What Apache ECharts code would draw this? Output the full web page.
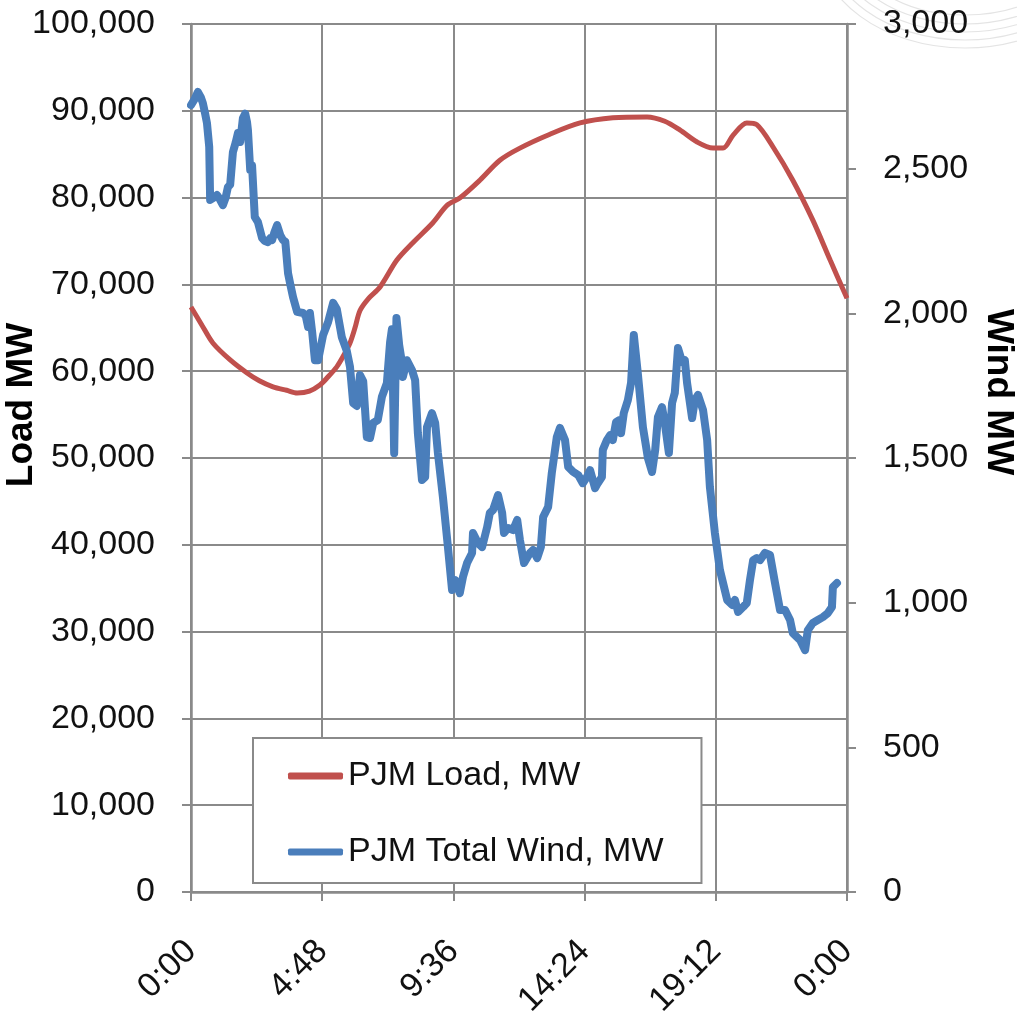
<!DOCTYPE html>
<html><head><meta charset="utf-8">
<script src="https://cdn.jsdelivr.net/npm/echarts@6/dist/echarts.min.js"></script>
<style>html,body{margin:0;padding:0;background:#fff;}#c{width:1017px;height:1014px;}</style>
</head><body><div id="c"></div>
<script>
// minutes after midnight
const loadTimes = [0, 24, 48, 86, 123, 150, 180, 210, 233, 260, 283, 300, 320, 335, 349, 360, 371, 390, 415, 452, 487, 531, 562, 590, 634, 678, 722, 788, 854, 926, 1001, 1040, 1073, 1111, 1146, 1168, 1190, 1220, 1242, 1278, 1321, 1365, 1403, 1440];
const loadValues = [67400, 65300, 63250, 61300, 59800, 58900, 58200, 57800, 57500, 57700, 58400, 59300, 60500, 61800, 63250, 65000, 67000, 68400, 69700, 72800, 74800, 77100, 79100, 79950, 82000, 84300, 85700, 87300, 88600, 89200, 89300, 88800, 87800, 86400, 85700, 85700, 87200, 88600, 88400, 85800, 82000, 77400, 72800, 68400];

const windTimes = [0, 8, 15, 22, 26, 31, 35, 40, 42, 50, 57, 63, 70, 76, 81, 86, 90, 92, 98, 103, 108, 114, 119, 123, 125, 130, 134, 140, 147, 156, 162, 169, 174, 178, 183, 189, 196, 202, 207, 211, 213, 218, 224, 233, 246, 252, 257, 261, 266, 272, 279, 290, 301, 312, 320, 331, 342, 349, 356, 364, 371, 378, 386, 393, 400, 410, 419, 430, 437, 441, 446, 451, 457, 461, 465, 474, 485, 492, 498, 507, 514, 518, 529, 536, 542, 553, 564, 573, 580, 590, 597, 606, 617, 619, 630, 639, 650, 656, 663, 674, 683, 687, 696, 707, 716, 722, 731, 744, 751, 760, 768, 773, 784, 792, 803, 810, 821, 828, 839, 850, 860, 869, 876, 887, 893, 902, 904, 913, 920, 926, 933, 940, 944, 950, 959, 966, 972, 981, 992, 1003, 1012, 1019, 1025, 1034, 1040, 1049, 1056, 1062, 1069, 1078, 1084, 1089, 1100, 1106, 1113, 1124, 1133, 1139, 1150, 1161, 1177, 1188, 1194, 1201, 1212, 1220, 1227, 1234, 1242, 1249, 1260, 1271, 1282, 1293, 1304, 1315, 1321, 1337, 1348, 1354, 1365, 1376, 1387, 1398, 1407, 1409, 1418];
const windValues = [2720, 2740, 2765, 2745, 2727, 2690, 2658, 2575, 2392, 2400, 2409, 2395, 2374, 2400, 2436, 2445, 2450, 2557, 2590, 2623, 2592, 2675, 2690, 2661, 2633, 2495, 2512, 2333, 2315, 2260, 2250, 2246, 2260, 2253, 2280, 2305, 2270, 2253, 2248, 2243, 2139, 2100, 2056, 2005, 2001, 1990, 1953, 2001, 1935, 1838, 1838, 1925, 1970, 2036, 2015, 1918, 1870, 1815, 1690, 1680, 1787, 1765, 1572, 1569, 1621, 1631, 1711, 1759, 1900, 1945, 1517, 1984, 1890, 1850, 1780, 1838, 1804, 1769, 1586, 1424, 1434, 1607, 1655, 1621, 1517, 1365, 1192, 1044, 1078, 1033, 1089, 1137, 1172, 1241, 1206, 1192, 1261, 1310, 1320, 1372, 1310, 1241, 1258, 1251, 1286, 1217, 1137, 1172, 1182, 1154, 1192, 1296, 1331, 1448, 1572, 1604, 1562, 1469, 1452, 1441, 1413, 1434, 1458, 1396, 1413, 1434, 1528, 1562, 1579, 1562, 1624, 1631, 1586, 1655, 1700, 1760, 1925, 1790, 1607, 1500, 1452, 1528, 1642, 1676, 1621, 1517, 1690, 1725, 1880, 1832, 1838, 1759, 1638, 1700, 1718, 1666, 1562, 1400, 1241, 1113, 1009, 992, 1009, 968, 985, 999, 1078, 1147, 1154, 1147, 1172, 1165, 1068, 975, 975, 940, 895, 871, 836, 905, 930, 940, 950, 964, 985, 1054, 1068];

const xTicks = [0, 288, 576, 864, 1152, 1440];
const xTickLabels = ['0:00', '4:48', '9:36', '14:24', '19:12', '0:00'];

const FONT = 'Liberation Sans, Arial, sans-serif';
const GRAY = '#8a8a8a';
const chart = echarts.init(document.getElementById('c'), null, {renderer: 'canvas'});
const fmtNum = v => String(v).replace(/\B(?=(\d{3})+(?!\d))/g, ',');

// faint decorative arcs in the upper-right corner (slide background)
const arcs = [[75, 115], [84, 124], [92, 132], [100, 140], [108, 148]].map(([ry, rx]) => ({
  type: 'ellipse', silent: true, z: -10,
  shape: {cx: 965, cy: -60, rx: rx, ry: ry},
  style: {fill: 'none', stroke: '#e4e4e4', lineWidth: 1.2}
}));

chart.setOption({
  animation: false,
  backgroundColor: '#fff',
  grid: {left: 191, right: 170, top: 24, bottom: 122, containLabel: false, outerBoundsMode: 'none'},
  legend: {
    orient: 'vertical', left: 253, top: 738,
    padding: [18, 38, 11, 35],
    itemGap: 36, itemWidth: 55, itemHeight: 7,
    icon: 'roundRect',
    borderColor: GRAY, borderWidth: 2, backgroundColor: '#fff',
    textStyle: {fontFamily: FONT, fontSize: 34, color: '#111', lineHeight: 40},
    itemStyle: {borderWidth: 0}
  },
  xAxis: {
    type: 'value', min: 0, max: 1440, interval: 288,
    axisLine: {show: true, lineStyle: {color: GRAY, width: 2.5}},
    axisTick: {show: true, length: 9, lineStyle: {color: GRAY, width: 2}},
    splitLine: {show: true, lineStyle: {color: GRAY, width: 2}},
    axisLabel: {
      rotate: 45, margin: 54, fontFamily: FONT, fontSize: 34, color: '#111',
      formatter: v => xTickLabels[xTicks.indexOf(Math.round(v))] || ''
    }
  },
  yAxis: [{
    type: 'value', min: 0, max: 100000, interval: 10000, position: 'left',
    axisLine: {show: true, lineStyle: {color: GRAY, width: 2.5}},
    axisTick: {show: true, length: 9, lineStyle: {color: GRAY, width: 2}},
    splitLine: {show: true, lineStyle: {color: GRAY, width: 2}},
    axisLabel: {margin: 36, fontFamily: FONT, fontSize: 34, color: '#111', formatter: fmtNum}
  }, {
    type: 'value', min: 0, max: 3000, interval: 500, position: 'right',
    axisLine: {show: true, lineStyle: {color: GRAY, width: 2.5}},
    axisTick: {show: true, length: 9, lineStyle: {color: GRAY, width: 2}},
    splitLine: {show: false},
    axisLabel: {margin: 36, fontFamily: FONT, fontSize: 34, color: '#111', formatter: fmtNum}
  }],
  series: [{
    name: 'PJM Load, MW', type: 'line', yAxisIndex: 0,
    data: loadTimes.map((t, i) => [t, loadValues[i]]),
    showSymbol: false, symbol: 'none', smooth: 0.3,
    lineStyle: {color: '#C0504D', width: 5},
    itemStyle: {color: '#C0504D'}, z: 3
  }, {
    name: 'PJM Total Wind, MW', type: 'line', yAxisIndex: 1,
    data: windTimes.map((t, i) => [t, windValues[i]]),
    showSymbol: false, symbol: 'none',
    lineStyle: {color: '#4A7EBB', width: 8, join: 'round', cap: 'round'},
    itemStyle: {color: '#4A7EBB'}, z: 4
  }],
  graphic: arcs.concat([{
    type: 'text', x: 22, y: 405, rotation: Math.PI / 2,
    style: {text: 'Load MW', font: 'bold 37px ' + FONT, fill: '#000', textAlign: 'center', textVerticalAlign: 'middle'}
  }, {
    type: 'text', x: 998, y: 392, rotation: -Math.PI / 2,
    style: {text: 'Wind MW', font: 'bold 37px ' + FONT, fill: '#000', textAlign: 'center', textVerticalAlign: 'middle'}
  }])
});
</script></body></html>
